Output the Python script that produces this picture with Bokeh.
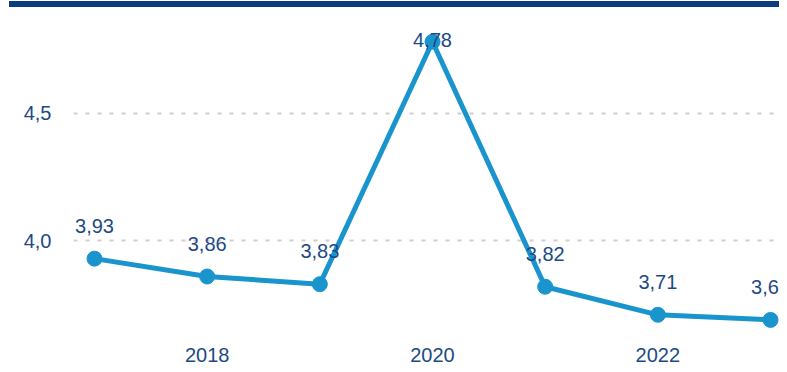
import numpy as np
from bokeh.plotting import figure
from bokeh.models import Range1d, FixedTicker, ColumnDataSource, Div
from bokeh.layouts import column
from bokeh.embed import file_html
from bokeh.resources import INLINE
from bokeh.core.properties import value

# ---- data ----
years = [2017, 2018, 2019, 2020, 2021, 2022, 2023]
values = [3.93, 3.86, 3.83, 4.78, 3.82, 3.71, 3.69]
value_labels = ["3,93", "3,86", "3,83", "4,78", "3,82", "3,71", "3,69"]
x_ticks = [2018, 2020, 2022]
y_ticks = [4.0, 4.5]
y_tick_labels = ["4,0", "4,5"]

NAVY = "#0b3c7c"
LINE = "#1a94cd"
TEXT = "#1d4a85"
FONT = "Liberation Sans"

W, H = 779, 357
border_left, border_top, border_bottom = 73, 0, 27
frame_w = W - border_left
frame_h = H - border_top - border_bottom
x0, x1 = 2016.8136, 2023.0797
y0, y1 = 3.625, 4.914

p = figure(width=W, height=H,
           min_border_left=border_left, min_border_right=0,
           min_border_top=border_top, min_border_bottom=border_bottom,
           x_range=Range1d(x0, x1), y_range=Range1d(y0, y1),
           output_backend="svg", toolbar_location=None, margin=0)
p.outline_line_color = None
p.background_fill_color = "white"
p.border_fill_color = "white"

p.xgrid.visible = False
p.ygrid.ticker = FixedTicker(ticks=y_ticks)
p.ygrid.grid_line_color = "#cfcfcf"
p.ygrid.grid_line_width = 2
p.ygrid.grid_line_dash = "4 8"

for ax in (p.xaxis[0], p.yaxis[0]):
    ax.axis_line_color = None
    ax.major_tick_line_color = None
    ax.minor_tick_line_color = None
    ax.major_label_text_font = FONT
    ax.major_label_text_font_size = "20px"
    ax.major_label_text_color = TEXT

p.xaxis.ticker = FixedTicker(ticks=x_ticks)
p.xaxis.major_label_standoff = 5
p.yaxis.ticker = FixedTicker(ticks=y_ticks)
p.yaxis.major_label_overrides = {t: l for t, l in zip(y_ticks, y_tick_labels)}
p.yaxis.major_label_standoff = 16

p.line(years, values, line_color=LINE, line_width=5)
p.scatter(years, values, size=15, fill_color=LINE, line_color=LINE)

px_per_unit = frame_h / (y1 - y0)
label_y = np.minimum(np.array(values) + 33 / px_per_unit, y1 - 33 / px_per_unit)
src = ColumnDataSource(dict(x=years, y=label_y, t=value_labels))
p.text(x="x", y="y", text="t", source=src, text_align="center",
       text_baseline="alphabetic", text_font=value(FONT),
       text_font_size="20px", text_color=TEXT)

bar = Div(text="", width=770, height=6, margin=(1, 0, 0, 9),
          styles={"background-color": NAVY})
layout = column(bar, p, spacing=0, margin=0)

open("out.html", "w").write(file_html(layout, INLINE))
